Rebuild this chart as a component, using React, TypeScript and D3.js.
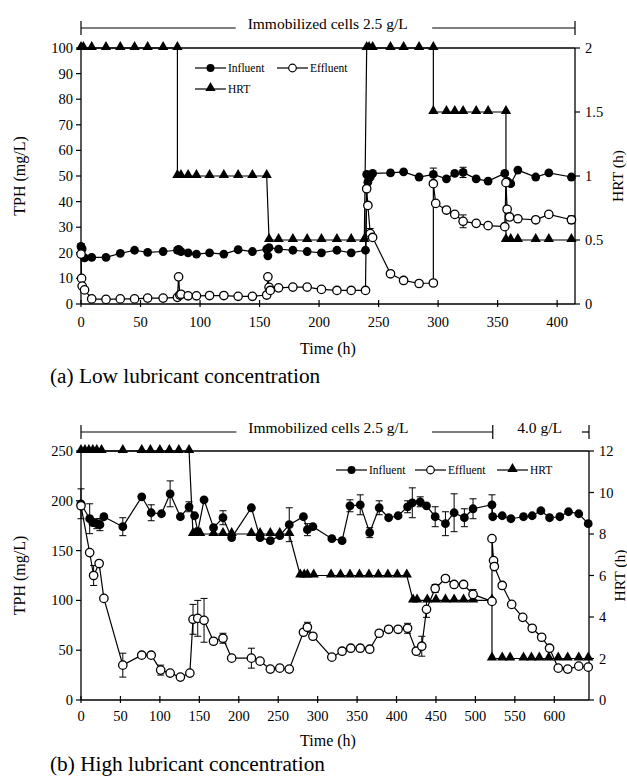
import * as d3 from 'd3'

// ---- data (a) low lubricant concentration ----
// [time h, value, error]
const hrtA = [
  [0, 2], [2, 2], [9, 2], [21, 2], [33, 2], [45, 2], [56, 2], [69, 2], [81, 2],
  [81, 1], [84, 1], [90, 1], [97, 1], [108, 1], [120, 1], [132, 1], [144, 1], [156, 1],
  [158, 0.5], [166, 0.5], [178, 0.5], [190, 0.5], [202, 0.5], [215, 0.5], [227, 0.5], [238, 0.5],
  [240, 2], [242, 2], [245, 2], [260, 2], [271, 2], [284, 2], [296, 2],
  [296, 1.5], [307, 1.5], [314, 1.5], [321, 1.5], [332, 1.5], [342, 1.5], [357, 1.5],
  [357, 0.5], [361, 0.5], [367, 0.5], [382, 0.5], [393, 0.5], [412, 0.5],
]
const influentA = [
  [0, 22.5, 1], [1, 21.5], [3, 18], [9, 18.2], [21, 18.2], [33, 19.8], [45, 21], [56, 20.2], [69, 20.5],
  [81, 21, 1], [82, 21.3], [84, 20.5], [90, 20], [97, 19.5], [108, 20], [120, 19.5], [132, 21.2], [144, 20.5],
  [156, 21.4], [157, 18.8], [158, 22], [166, 21.4], [178, 21], [190, 20.5], [202, 20], [215, 21], [227, 20],
  [239, 21], [240, 50.6], [241, 47.6], [243, 49.6], [245, 51], [260, 51.2, 1], [271, 51.6], [284, 49.6],
  [296, 50.6, 2.5], [307, 48.9], [314, 51], [321, 51.4, 2], [332, 48.9], [342, 48], [356, 51], [358, 48],
  [361, 47], [367, 52.3], [382, 49.6], [393, 51.2], [412, 49.6],
]
const effluentA = [
  [0, 19.5], [0.5, 10], [1, 7], [3, 5.5], [9, 2], [21, 1.8], [33, 2], [45, 2], [56, 2.3], [69, 2.3],
  [81, 2.6], [82, 10.6], [83, 3.5], [84, 3.8], [90, 3.2], [97, 3.2], [108, 3.3], [120, 3.3], [132, 3],
  [144, 3], [156, 3.5], [157, 10.6], [158, 6.5], [159, 5.3], [166, 6.3], [178, 6.6], [190, 6.6],
  [202, 5.7], [215, 5.3], [227, 5.3], [239, 5.3], [240, 45], [241, 38.5], [243, 27.5, 2], [245, 26],
  [260, 11.8], [271, 9.2], [284, 8], [296, 8.2], [296, 47], [298, 39.3], [307, 36.7], [314, 35],
  [321, 32.3, 2.5], [332, 31.5], [342, 30.6], [356, 30.2], [357, 47.4], [358, 37], [360, 34],
  [367, 33.3], [382, 32.9], [393, 35, 1], [412, 32.9, 1.5],
]

// ---- data (b) high lubricant concentration ----
const hrtB = [
  [0, 12], [5, 12], [10, 12], [15, 12], [20, 12], [26, 12], [53, 12], [77, 12], [88, 12], [100, 12],
  [112, 12], [124, 12], [137, 12],
  [142, 8], [145, 8], [148, 8], [151, 8], [168, 8], [180, 8], [191, 8], [216, 8], [227, 8], [240, 8],
  [252, 8], [264, 8],
  [278, 6], [283, 6], [287, 6], [295, 6], [317, 6], [329, 6], [341, 6], [353, 6], [365, 6], [377, 6],
  [389, 6], [401, 6], [413, 6],
  [421, 4.8], [426, 4.8], [439, 4.8], [450, 4.8], [462, 4.8], [473, 4.8], [485, 4.8], [497, 4.8], [521, 4.8],
  [521, 2], [534, 2], [544, 2], [561, 2], [571, 2], [581, 2], [593, 2], [605, 2], [617, 2], [631, 2], [643, 2],
]
const influentB = [
  [0, 197, 15], [11, 182, 15], [15, 178], [20, 177, 5], [24, 176, 6], [29, 184], [53, 174, 9], [77, 204],
  [89, 188, 8], [102, 187], [113, 207, 13], [126, 184], [137, 194, 5], [144, 185], [148, 169],
  [156, 201], [168, 173], [180, 183, 7], [191, 163], [216, 193], [227, 163], [240, 160], [252, 165],
  [264, 176, 17], [282, 184], [287, 171, 6], [294, 174], [318, 162], [331, 160], [341, 195, 6],
  [354, 196, 10], [366, 168, 5], [378, 193, 7], [390, 183], [402, 185], [414, 194, 6], [420, 198, 15],
  [430, 199, 5], [438, 195], [449, 184, 10], [462, 177, 12], [473, 188, 19], [486, 183, 9],
  [497, 192, 10], [521, 196, 10], [522, 184], [534, 185], [545, 182], [561, 184], [572, 185],
  [583, 190], [594, 183], [607, 184], [618, 189], [631, 187], [643, 177],
]
const effluentB = [
  [0, 195], [11, 148], [16, 125, 10], [23, 137], [29, 102], [53, 35, 12], [77, 45], [89, 45],
  [101, 30, 5], [113, 27], [126, 23], [138, 27], [142, 81, 15], [148, 82, 18], [156, 80, 22],
  [168, 59], [180, 62, 5], [191, 42], [216, 42, 10], [227, 39], [240, 31], [252, 32], [264, 31],
  [282, 68], [287, 73, 5], [294, 64], [318, 43], [331, 49], [342, 52], [354, 52], [366, 51],
  [378, 67], [390, 71], [402, 71], [414, 72, 5], [425, 49], [432, 54, 10], [438, 91, 8],
  [449, 112, 4], [462, 122], [473, 116], [485, 116], [497, 106, 5], [521, 99], [521, 162],
  [523, 140], [524, 134], [534, 115], [546, 96], [560, 83], [572, 72], [584, 63], [594, 52],
  [605, 32], [617, 31], [631, 34], [643, 33],
]

const ticksA = { x: d3.range(0, 401, 50), y: d3.range(0, 101, 10), y2: [0, 0.5, 1, 1.5, 2] }
const ticksB = { x: d3.range(0, 601, 50), y: d3.range(0, 251, 50), y2: d3.range(0, 13, 2) }

const FONT = '"Liberation Serif", "Times New Roman", serif'

function Panel({ cfg }) {
  const { x0, x1, yTop, yBot, xMax, yMax, y2Max, ticks, hrt, inf, eff, legend, annot, caption, off } = cfg
  const x = d3.scaleLinear().domain([0, xMax]).range([x0, x1])
  const y = d3.scaleLinear().domain([0, yMax]).range([yBot, yTop])
  const y2 = d3.scaleLinear().domain([0, y2Max]).range([yBot, yTop])
  const line = d3.line()
  const tri = d3.symbol(d3.symbolTriangle, 46)()
  const pathFor = (arr, ys) => line(arr.map((d) => [x(d[0]), ys(d[1])]))
  const errBars = (arr) =>
    arr.filter((d) => d[2]).map((d, i) => {
      const cx = x(d[0])
      const a = y(d[1] + d[2])
      const b = y(Math.max(0, d[1] - d[2]))
      return (
        <g key={'e' + i} stroke="#000" strokeWidth={1}>
          <line x1={cx} x2={cx} y1={a} y2={b} />
          <line x1={cx - 3.5} x2={cx + 3.5} y1={a} y2={a} />
          <line x1={cx - 3.5} x2={cx + 3.5} y1={b} y2={b} />
        </g>
      )
    })
  const midX = 328
  const midY = (yTop + yBot) / 2
  return (
    <g fontFamily={FONT} fill="#000">
      {/* frame */}
      <g stroke="#000" strokeWidth={1.3} fill="none">
        <line x1={x0} x2={x1} y1={yTop} y2={yTop} />
        <line x1={x0} x2={x1} y1={yBot} y2={yBot} />
        <line x1={x0} x2={x0} y1={yTop} y2={yBot} />
        <line x1={x1} x2={x1} y1={yTop} y2={yBot} />
      </g>
      {/* left axis */}
      {ticks.y.map((t) => (
        <g key={'y' + t}>
          <line x1={x0 - 5} x2={x0} y1={y(t)} y2={y(t)} stroke="#000" strokeWidth={1.2} />
          <text x={x0 - 8} y={y(t)} dy="0.35em" textAnchor="end" fontSize={14.5}>{t}</text>
        </g>
      ))}
      {ticks.y2.map((t) => (
        <g key={'r' + t}>
          <line x1={x1} x2={x1 + 5} y1={y2(t)} y2={y2(t)} stroke="#000" strokeWidth={1.2} />
          <text x={x1 + 10} y={y2(t)} dy="0.35em" textAnchor="start" fontSize={14.5}>{t}</text>
        </g>
      ))}
      {ticks.x.map((t) => (
        <g key={'x' + t}>
          <line x1={x(t)} x2={x(t)} y1={yBot - 4} y2={yBot + 3} stroke="#000" strokeWidth={1.2} />
          <text x={x(t)} y={yBot + off[0]} dy="0.35em" textAnchor="middle" fontSize={14.5}>{t}</text>
        </g>
      ))}
      <text x={midX} y={yBot + off[1]} dy="0.35em" textAnchor="middle" fontSize={16}>Time (h)</text>
      <text transform={`translate(19,${midY}) rotate(-90)`} dy="0.35em" textAnchor="middle" fontSize={16}>TPH (mg/L)</text>
      <text transform={`translate(${x1 + off[3]},${midY}) rotate(-90)`} dy="0.35em" textAnchor="middle" fontSize={15.5}>HRT (h)</text>
      <text x={50} y={yBot + off[2]} dy="0.35em" fontSize={21.3}>{caption}</text>

      {/* annotation bar */}
      <g stroke="#000" strokeWidth={1.2}>
        {annot.lines.map((l, i) => (
          <line key={'al' + i} x1={x(l[0])} x2={x(l[1])} y1={annot.y} y2={annot.y} />
        ))}
        {annot.marks.map((m, i) => (
          <line key={'am' + i} x1={x(m)} x2={x(m)} y1={annot.y - 7} y2={annot.y + 7} />
        ))}
      </g>
      {annot.texts.map((t, i) => (
        <text key={'at' + i} x={x(t[0])} y={annot.y - 4} dy="0.35em" fontSize={15.5}>{t[1]}</text>
      ))}

      {/* HRT */}
      <path d={pathFor(hrt, y2)} fill="none" stroke="#000" strokeWidth={1.2} />
      {hrt.map((d, i) => (
        <path key={'h' + i} d={tri} transform={`translate(${x(d[0])},${y2(d[1]) - 1})`} fill="#000" />
      ))}
      {/* influent */}
      {errBars(inf)}
      <path d={pathFor(inf, y)} fill="none" stroke="#000" strokeWidth={1.2} />
      {inf.map((d, i) => (
        <circle key={'i' + i} cx={x(d[0])} cy={y(d[1])} r={4.4} fill="#000" />
      ))}
      {/* effluent */}
      {errBars(eff)}
      <path d={pathFor(eff, y)} fill="none" stroke="#000" strokeWidth={1.2} />
      {eff.map((d, i) => (
        <circle key={'f' + i} cx={x(d[0])} cy={y(d[1])} r={4.2} fill="#fff" stroke="#000" strokeWidth={1.3} />
      ))}

      {/* legend */}
      {legend.map((l, i) => (
        <g key={'lg' + i}>
          <line x1={l.x} x2={l.x + 31} y1={l.y} y2={l.y} stroke="#000" strokeWidth={1.2} />
          {l.kind === 'inf' && <circle cx={l.x + 15.5} cy={l.y} r={4} fill="#000" />}
          {l.kind === 'eff' && <circle cx={l.x + 15.5} cy={l.y} r={3.8} fill="#fff" stroke="#000" strokeWidth={1.2} />}
          {l.kind === 'hrt' && <path d={tri} transform={`translate(${l.x + 15.5},${l.y - 1})`} fill="#000" />}
          <text x={l.x + 33} y={l.y} dy="0.35em" fontSize={11.5}>{l.label}</text>
        </g>
      ))}
    </g>
  )
}

export default function App() {
  const cfgA = {
    x0: 81, x1: 575, yTop: 48, yBot: 304, xMax: 415, yMax: 100, y2Max: 2,
    ticks: ticksA, hrt: hrtA, inf: influentA, eff: effluentA,
    off: [18, 44, 72, 43],
    caption: '(a) Low lubricant concentration',
    annot: {
      y: 28,
      lines: [[0, 130], [295, 415]],
      marks: [0, 415],
      texts: [[140, 'Immobilized cells 2.5 g/L']],
    },
    legend: [
      { x: 195, y: 68, kind: 'inf', label: 'Influent' },
      { x: 277, y: 68, kind: 'eff', label: 'Effluent' },
      { x: 195, y: 89, kind: 'hrt', label: 'HRT' },
    ],
  }
  const cfgB = {
    x0: 81, x1: 589, yTop: 451, yBot: 700, xMax: 644, yMax: 250, y2Max: 12,
    ticks: ticksB, hrt: hrtB, inf: influentB, eff: effluentB,
    off: [16, 40, 64, 31],
    caption: '(b) High lubricant concentration',
    annot: {
      y: 432,
      lines: [[0, 197], [445, 522], [635, 644]],
      marks: [0, 522, 644],
      texts: [[212, 'Immobilized cells 2.5 g/L'], [553, '4.0 g/L']],
    },
    legend: [
      { x: 336, y: 470, kind: 'inf', label: 'Influent' },
      { x: 415, y: 470, kind: 'eff', label: 'Effluent' },
      { x: 497, y: 470, kind: 'hrt', label: 'HRT' },
    ],
  }
  return (
    <svg width={627} height={776} style={{ position: 'absolute', left: 0, top: 0, background: '#fff' }}>
      <rect width={627} height={776} fill="#fff" />
      <Panel cfg={cfgA} />
      <Panel cfg={cfgB} />
    </svg>
  )
}
